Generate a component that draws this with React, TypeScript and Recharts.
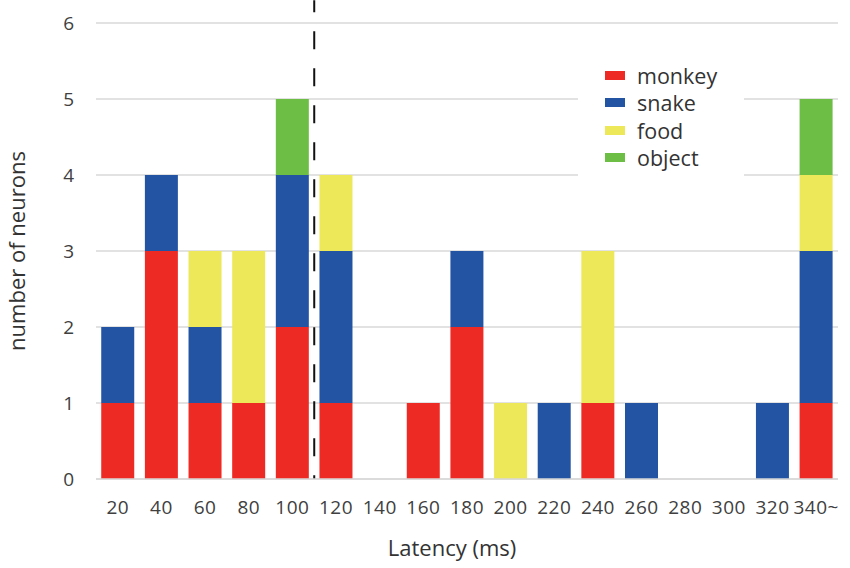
import React from 'react'
import { BarChart, Bar, XAxis, YAxis, CartesianGrid, Legend, ReferenceLine } from 'recharts'

const latencies = ['20', '40', '60', '80', '100', '120', '140', '160', '180', '200', '220', '240', '260', '280', '300', '320', '340~']
const monkey = [1, 3, 1, 1, 2, 1, 0, 1, 2, 0, 0, 1, 0, 0, 0, 0, 1]
const snake = [1, 1, 1, 0, 2, 2, 0, 0, 1, 0, 1, 0, 1, 0, 0, 1, 2]
const food = [0, 0, 1, 2, 0, 1, 0, 0, 0, 1, 0, 2, 0, 0, 0, 0, 1]
const object = [0, 0, 0, 0, 1, 0, 0, 0, 0, 0, 0, 0, 0, 0, 0, 0, 1]
const yTicks = [0, 1, 2, 3, 4, 5, 6]

const series = [
  { key: 'monkey', color: '#ED2A24' },
  { key: 'snake', color: '#2353A3' },
  { key: 'food', color: '#EDE85A' },
  { key: 'object', color: '#6DBE45' },
]

const data = latencies.map((lat, i) => ({
  lat,
  monkey: monkey[i],
  snake: snake[i],
  food: food[i],
  object: object[i],
}))

const FONT = '"Open Sans", "Noto Sans", sans-serif'
const TEXT = '#404040'

function LegendBox() {
  return (
    <div style={{ background: '#fff', padding: '4px 0 6px 27px', width: 139, fontFamily: FONT }}>
      {series.map((s) => (
        <div key={s.key} style={{ display: 'flex', alignItems: 'center', height: 27.3 }}>
          <span style={{ display: 'inline-block', width: 20, height: 9, background: s.color, marginRight: 12 }} />
          <span style={{ display: 'block', fontSize: 21.5, color: '#333', lineHeight: '27px', height: 27 }}>{s.key}</span>
        </div>
      ))}
    </div>
  )
}

export default function App() {
  return (
    <div style={{ position: 'absolute', left: 0, top: 0, width: 850, height: 568, background: '#fff' }}>
      <BarChart
        width={850}
        height={568}
        data={data}
        margin={{ top: 23, right: 12, left: 0, bottom: 59 }}
        barCategoryGap="12%"
      >
        <CartesianGrid vertical={false} stroke="#d9d9d9" strokeWidth={1.5} />
        <XAxis
          dataKey="lat"
          height={30}
          tickLine={false}
          axisLine={{ stroke: '#d9d9d9', strokeWidth: 1.5 }}
          tick={{ fontSize: 19, fill: TEXT, fontFamily: FONT, letterSpacing: 0.5 }}
          tickMargin={16}
          interval={0}
          label={{ value: 'Latency (ms)', position: 'insideBottom', offset: -47, dx: -15, fontSize: 22, fill: '#333', fontFamily: FONT }}
        />
        <YAxis
          width={96}
          domain={[0, 6]}
          ticks={yTicks}
          tickLine={false}
          axisLine={false}
          tick={{ fontSize: 19, fill: TEXT, fontFamily: FONT }}
          tickMargin={16}
          label={{ value: 'number of neurons', angle: -90, position: 'insideLeft', offset: 17, fontSize: 22, fill: '#333', fontFamily: FONT, style: { textAnchor: 'middle' } }}
        />
        <Legend
          layout="vertical"
          verticalAlign="middle"
          align="center"
          wrapperStyle={{ left: 578, top: 58, width: 166 }}
          content={() => <LegendBox />}
        />
        {series.map((s) => (
          <Bar key={s.key} dataKey={s.key} stackId="a" fill={s.color} isAnimationActive={false} />
        ))}
        <ReferenceLine
          segment={[{ x: '100', y: 6.3 }, { x: '100', y: 0 }]}
          position="end"
          ifOverflow="visible"
          stroke="#111"
          strokeWidth={2}
          strokeDasharray="18 19"
          strokeDashoffset={6}
        />
      </BarChart>
    </div>
  )
}
